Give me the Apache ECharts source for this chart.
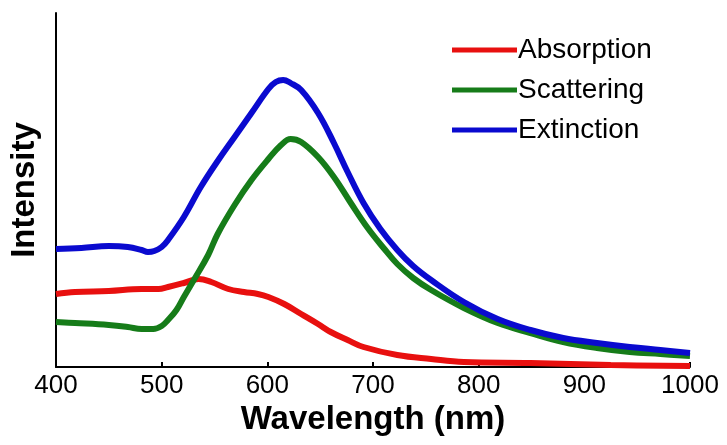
<!DOCTYPE html>
<html>
<head>
<meta charset="utf-8">
<script src="https://cdn.jsdelivr.net/npm/echarts@6/dist/echarts.min.js"></script>
<style>html,body{margin:0;padding:0;background:#fff}#c{width:727px;height:445px}</style>
</head>
<body>
<div id="c"></div>
<script>
const seriesNames = ['Absorption', 'Scattering', 'Extinction'];
const xTicks = [400, 500, 600, 700, 800, 900, 1000];

const absX = [400, 418, 450, 481, 497, 506, 521, 535, 547, 563, 578, 591, 601, 616, 632, 648, 660, 676, 691, 723, 755, 786, 849, 925, 1000];
const absY = [0.73, 0.75, 0.76, 0.78, 0.78, 0.80, 0.84, 0.88, 0.85, 0.78, 0.75, 0.73, 0.70, 0.63, 0.53, 0.43, 0.35, 0.27, 0.20, 0.12, 0.08, 0.05, 0.04, 0.02, 0.01];

const scaX = [400, 418, 450, 468, 481, 492, 500, 506, 514, 521, 531, 544, 553, 569, 585, 601, 613, 622, 632, 648, 663, 679, 695, 710, 723, 738, 755, 786, 818, 849, 880, 912, 943, 972, 1000];
const scaY = [0.45, 0.44, 0.42, 0.40, 0.38, 0.38, 0.41, 0.47, 0.57, 0.70, 0.88, 1.12, 1.33, 1.62, 1.87, 2.08, 2.22, 2.28, 2.25, 2.10, 1.90, 1.64, 1.39, 1.19, 1.03, 0.89, 0.77, 0.59, 0.44, 0.34, 0.25, 0.19, 0.15, 0.13, 0.11];

const extX = [400, 424, 450, 468, 481, 487, 493, 500, 506, 521, 537, 553, 569, 585, 601, 608, 615, 622, 632, 648, 663, 676, 691, 707, 723, 738, 755, 786, 818, 849, 880, 912, 943, 972, 1000];
const extY = [1.18, 1.19, 1.21, 1.20, 1.17, 1.15, 1.16, 1.20, 1.27, 1.50, 1.80, 2.06, 2.30, 2.54, 2.78, 2.85, 2.87, 2.84, 2.77, 2.54, 2.24, 1.95, 1.64, 1.38, 1.17, 1.01, 0.87, 0.65, 0.48, 0.37, 0.29, 0.24, 0.20, 0.17, 0.14];

const colors = ['#e8100f', '#167c19', '#0a0acf'];
const pairs = (xs, ys) => xs.map((x, i) => [x, ys[i]]);
const allData = [pairs(absX, absY), pairs(scaX, scaY), pairs(extX, extY)];

const chart = echarts.init(document.getElementById('c'));
chart.setOption({
  animation: false,
  backgroundColor: '#fff',
  grid: { left: 54.5, right: 37, top: 13, bottom: 78 },
  legend: {
    data: seriesNames,
    orient: 'vertical',
    left: 447,
    top: 31,
    icon: 'rect',
    itemWidth: 65,
    itemHeight: 5,
    itemGap: 12,
    textStyle: { fontFamily: 'Liberation Sans', fontSize: 28, color: '#000', lineHeight: 28, padding: [0, 0, 0, -4] }
  },
  xAxis: {
    type: 'value',
    min: 400,
    max: 1000,
    interval: 100,
    name: 'Wavelength (nm)',
    nameLocation: 'middle',
    nameGap: 27,
    nameTextStyle: { fontFamily: 'Liberation Sans', fontSize: 33, fontWeight: 'bold', color: '#000' },
    axisLine: { lineStyle: { color: '#000', width: 2 } },
    axisTick: { inside: true, length: 5, lineStyle: { color: '#000', width: 2 } },
    axisLabel: {
      margin: 6,
      fontFamily: 'Liberation Sans',
      fontSize: 26,
      color: '#000',
      formatter: v => xTicks.includes(v) ? String(v) : ''
    },
    splitLine: { show: false }
  },
  yAxis: {
    type: 'value',
    min: 0,
    max: 3.54,
    name: 'Intensity',
    nameLocation: 'middle',
    nameGap: 15,
    nameTextStyle: { fontFamily: 'Liberation Sans', fontSize: 33, fontWeight: 'bold', color: '#000' },
    axisLine: { show: true, lineStyle: { color: '#000', width: 2 } },
    axisTick: { show: false },
    axisLabel: { show: false },
    splitLine: { show: false }
  },
  series: seriesNames.map((n, i) => ({
    name: n,
    type: 'line',
    data: allData[i],
    smooth: 0.4,
    showSymbol: false,
    symbol: 'none',
    color: colors[i],
    lineStyle: { width: 6, color: colors[i] },
    z: 2 + i
  }))
});
</script>
</body>
</html>
